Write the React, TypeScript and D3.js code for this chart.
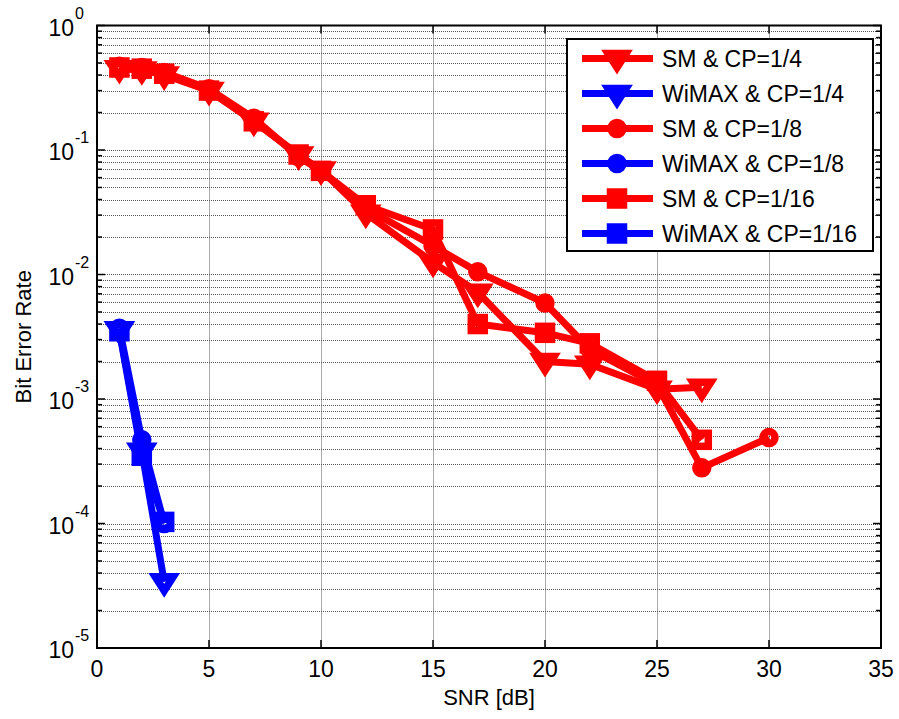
import React from "react";
import * as d3 from "d3";

const snrSM14 = [1, 2, 3, 5, 7, 9, 10, 12, 15, 17, 20, 22, 25, 27];
const berSM14 = [0.45, 0.44, 0.40, 0.30, 0.17, 0.091, 0.069, 0.031, 0.0125, 0.0072, 0.0020, 0.0019, 0.0012, 0.00124];
const snrSM18 = [1, 2, 3, 5, 7, 9, 10, 12, 15, 17, 20, 22, 25, 27, 30];
const berSM18 = [0.47, 0.46, 0.42, 0.31, 0.18, 0.088, 0.068, 0.034, 0.017, 0.0105, 0.0059, 0.0025, 0.0013, 0.00028, 0.00049];
const snrSM116 = [1, 2, 3, 5, 7, 9, 10, 12, 15, 17, 20, 22, 25, 27];
const berSM116 = [0.46, 0.45, 0.41, 0.30, 0.17, 0.092, 0.068, 0.036, 0.023, 0.0040, 0.0034, 0.0028, 0.0014, 0.00047];
const snrW = [1, 2, 3];
const berW14 = [0.0036, 0.00038, 0.000034];
const berW18 = [0.0037, 0.00047, 0.0001];
const berW116 = [0.0035, 0.00035, 0.000103];

const xTicks = [0, 5, 10, 15, 20, 25, 30, 35];
const yExps = [0, -1, -2, -3, -4, -5];

const seriesNames = [
  "SM & CP=1/4",
  "WiMAX & CP=1/4",
  "SM & CP=1/8",
  "WiMAX & CP=1/8",
  "SM & CP=1/16",
  "WiMAX & CP=1/16",
];

const RED = "#ff0000";
const BLUE = "#0000ff";

type Series = { name: string; xs: number[]; ys: number[]; color: string; marker: "tri" | "circ" | "sq" };

const series: Series[] = [
  { name: seriesNames[0], xs: snrSM14, ys: berSM14, color: RED, marker: "tri" },
  { name: seriesNames[1], xs: snrW, ys: berW14, color: BLUE, marker: "tri" },
  { name: seriesNames[2], xs: snrSM18, ys: berSM18, color: RED, marker: "circ" },
  { name: seriesNames[3], xs: snrW, ys: berW18, color: BLUE, marker: "circ" },
  { name: seriesNames[4], xs: snrSM116, ys: berSM116, color: RED, marker: "sq" },
  { name: seriesNames[5], xs: snrW, ys: berW116, color: BLUE, marker: "sq" },
];

const L = 97, R = 881, T = 25.5, B = 648;
const FONT = "'Liberation Sans', Arial, sans-serif";

function Marker({ kind, x, y, color }: { kind: string; x: number; y: number; color: string }) {
  const sw = 7.5;
  if (kind === "circ") {
    return <circle cx={x} cy={y} r={6} fill="none" stroke={color} strokeWidth={sw} />;
  }
  if (kind === "sq") {
    return <rect x={x - 6.5} y={y - 6.5} width={13} height={13} fill="none" stroke={color} strokeWidth={sw} strokeLinejoin="miter" />;
  }
  const p = `M${x - 9},${y - 5} L${x + 9},${y - 5} L${x},${y + 9} Z`;
  return <path d={p} fill="none" stroke={color} strokeWidth={sw} strokeLinejoin="miter" strokeMiterlimit={10} />;
}

export default function App() {
  const x = d3.scaleLinear().domain([0, 35]).range([L, R]);
  const y = d3.scaleLog().domain([1e-5, 1]).range([B, T]);
  const line = d3.line<[number, number]>().x((d) => x(d[0])).y((d) => y(d[1]));

  const minorVals: number[] = [];
  for (let e = -5; e < 0; e++) {
    for (let m = 2; m <= 9; m++) minorVals.push(m * Math.pow(10, e));
  }
  const majorVals = yExps.map((e) => Math.pow(10, e));
  const snap = (v: number) => Math.round(v) + 0.5;

  const legX = 567, legY = 39, legW = 306, legH = 212;
  const rowY = (i: number) => 58.5 + i * 35;

  return (
    <svg width={899} height={719} style={{ display: "block", position: "absolute", left: 0, top: 0 }} fontFamily={FONT}>
      <rect x={0} y={0} width={899} height={719} fill="#fff" />
      {/* grid */}
      <g stroke="#555" strokeWidth={1} strokeDasharray="1 1">
        {xTicks.slice(1, -1).map((t) => (
          <line key={"gx" + t} x1={snap(x(t))} x2={snap(x(t))} y1={T} y2={B} />
        ))}
        {[...minorVals, ...majorVals.slice(1, -1)].map((v, i) => (
          <line key={"gy" + i} x1={L} x2={R} y1={snap(y(v))} y2={snap(y(v))} />
        ))}
      </g>
      {/* ticks */}
      <g stroke="#000" strokeWidth={1.5}>
        {xTicks.map((t) => (
          <g key={"tx" + t}>
            <line x1={x(t)} x2={x(t)} y1={B} y2={B - 8} />
            <line x1={x(t)} x2={x(t)} y1={T} y2={T + 8} />
          </g>
        ))}
        {majorVals.map((v, i) => (
          <g key={"tym" + i}>
            <line x1={L} x2={L + 8} y1={y(v)} y2={y(v)} />
            <line x1={R} x2={R - 8} y1={y(v)} y2={y(v)} />
          </g>
        ))}
        {minorVals.map((v, i) => (
          <g key={"tyn" + i}>
            <line x1={L} x2={L + 5} y1={y(v)} y2={y(v)} />
            <line x1={R} x2={R - 5} y1={y(v)} y2={y(v)} />
          </g>
        ))}
      </g>
      {/* series */}
      {series.map((s, si) => {
        const pts: [number, number][] = s.xs.map((xv, i) => [xv, s.ys[i]]);
        return (
          <g key={"s" + si}>
            <path d={line(pts) || ""} fill="none" stroke={s.color} strokeWidth={7} strokeLinejoin="round" />
            {pts.map((p, i) => (
              <Marker key={i} kind={s.marker} x={x(p[0])} y={y(p[1])} color={s.color} />
            ))}
          </g>
        );
      })}
      {/* axes box */}
      <rect x={L} y={T} width={R - L} height={B - T} fill="none" stroke="#000" strokeWidth={2} />
      {/* tick labels */}
      <g fontSize={23} fill="#000">
        {xTicks.map((t) => (
          <text key={"lx" + t} x={x(t)} y={677} textAnchor="middle">{t}</text>
        ))}
        {yExps.map((e) => (
          <g key={"ly" + e}>
            <text x={74} y={y(Math.pow(10, e)) + 10} textAnchor="end">10</text>
            <text x={75} y={y(Math.pow(10, e)) - 7} fontSize={16} textAnchor="start">{e === 0 ? "0" : String(e)}</text>
          </g>
        ))}
      </g>
      <text x={(L + R) / 2} y={705} textAnchor="middle" fontSize={22}>SNR [dB]</text>
      <text transform={`translate(31, ${(T + B) / 2}) rotate(-90)`} textAnchor="middle" fontSize={22}>Bit Error Rate</text>
      {/* legend */}
      <rect x={legX} y={legY} width={legW} height={legH} fill="#fff" stroke="#000" strokeWidth={2} />
      {series.map((s, i) => (
        <g key={"leg" + i}>
          <line x1={582} x2={653} y1={rowY(i)} y2={rowY(i)} stroke={s.color} strokeWidth={7} />
          <Marker kind={s.marker} x={617} y={rowY(i)} color={s.color} />
          <text x={662} y={rowY(i) + 8} fontSize={23} fill="#000">{s.name}</text>
        </g>
      ))}
    </svg>
  );
}
